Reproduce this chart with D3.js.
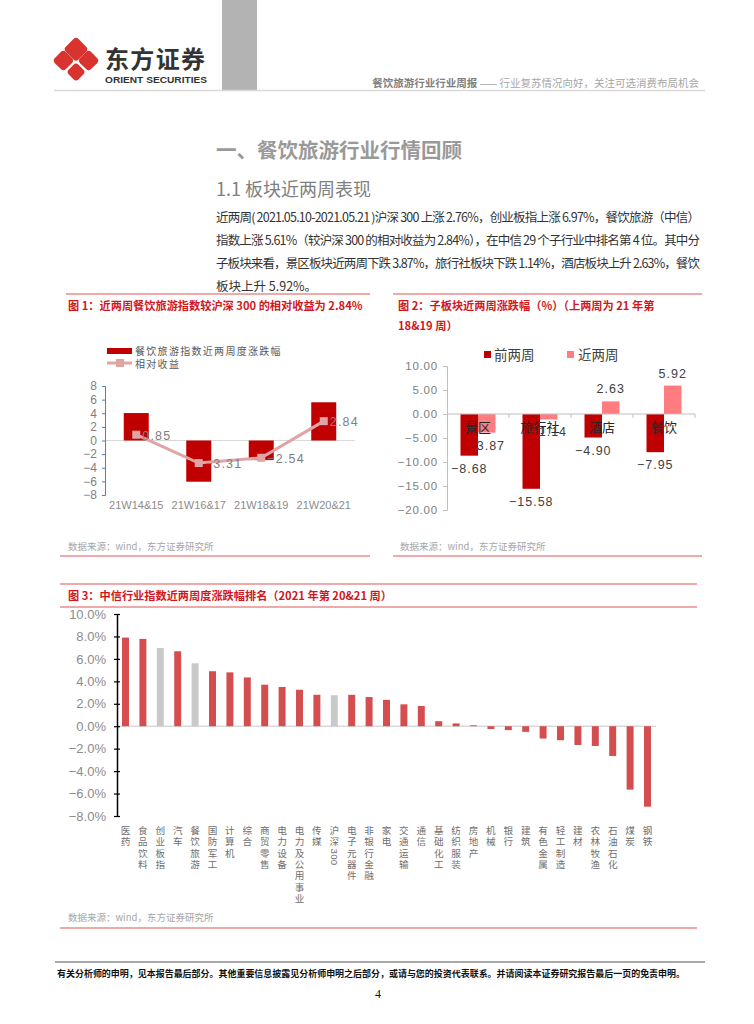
<!DOCTYPE html>
<html><head><meta charset="utf-8">
<script src="https://cdn.jsdelivr.net/npm/d3@7"></script>
<style>
html,body{margin:0;padding:0;background:#fff;}
svg{display:block;font-family:"Noto Sans CJK SC","Noto Sans",sans-serif;}
</style></head>
<body>
<svg id="page" width="754" height="1024"></svg>
<script>
// ---------- DATA ----------
const c1Categories = ["21W14&15", "21W16&17", "21W18&19", "21W20&21"];
const c1Index = [4.03, -6.05, -2.88, 5.61];
const c1Relative = [0.85, -3.31, -2.54, 2.84];
const c1Ticks = [-8, -6, -4, -2, 0, 2, 4, 6, 8];
const c1Series = ["餐饮旅游指数近两周度涨跌幅", "相对收益"];

const c2Categories = ["景区", "旅行社", "酒店", "餐饮"];
const c2Prev = [-8.68, -15.58, -4.90, -7.95];
const c2Recent = [-3.87, -1.14, 2.63, 5.92];
const c2Ticks = [-20, -15, -10, -5, 0, 5, 10];
const c2Series = ["前两周", "近两周"];

const c3Categories = ["医药","食品饮料","创业板指","汽车","餐饮旅游","国防军工","计算机","综合","商贸零售","电力设备","电力及公用事业","传媒","沪深300","电子元器件","非银行金融","家电","交通运输","通信","基础化工","纺织服装","房地产","机械","银行","建筑","有色金属","轻工制造","建材","农林牧渔","石油石化","煤炭","钢铁"];
const c3Values = [7.9,7.78,6.97,6.68,5.61,4.9,4.8,4.35,3.7,3.5,3.25,2.8,2.76,2.8,2.6,2.35,1.95,1.8,0.45,0.25,0.08,-0.25,-0.35,-0.5,-1.1,-1.25,-1.67,-1.76,-2.65,-5.65,-7.17];
const c3Gray = ["创业板指","餐饮旅游","沪深300"];
const c3Ticks = [-8,-6,-4,-2,0,2,4,6,8,10];

const paraLines = [
 "近两周( 2021.05.10-2021.05.21 )沪深 300 上涨  2.76%，创业板指上涨 6.97%，餐饮旅游（中信）",
 "指数上涨 5.61%（较沪深 300 的相对收益为 2.84%），在中信 29 个子行业中排名第 4 位。其中分",
 "子板块来看，景区板块近两周下跌 3.87%，旅行社板块下跌 1.14%，酒店板块上升 2.63%，餐饮",
 "板块上升 5.92%。"
];

// ---------- PAGE ----------
const svg = d3.select("#page");
const RED = "#c00000", TITLE_RED = "#d1161c", LINE_RED = "#e88d8d";
const NUMFONT = "Liberation Sans, Arial, sans-serif";

// header
svg.append("rect").attr("x",222).attr("y",0).attr("width",35).attr("height",90).attr("fill","#b3b3b3");
const logo = svg.append("g").attr("transform","translate(76,60) scale(1.2)");
[[0,-9],[-10.5,0.5],[10.5,0.5],[0,10]].forEach(([dx,dy],i)=>{
  const s = (i===0)?15:(i===3?11.5:13);
  logo.append("rect").attr("x",-s/2).attr("y",-s/2).attr("width",s).attr("height",s).attr("rx",3)
    .attr("fill","#d9332f").attr("transform",`translate(${dx},${dy}) rotate(45)`);
});
svg.append("text").attr("x",105).attr("y",68).attr("font-size",24).attr("font-weight",700).attr("fill","#333")
  .attr("textLength",100).text("东方证券");
svg.append("text").attr("x",105).attr("y",83).attr("font-size",8.5).attr("font-weight",700).attr("fill","#333")
  .attr("font-family",NUMFONT).attr("textLength",102).attr("lengthAdjust","spacingAndGlyphs").text("ORIENT SECURITIES");
svg.append("line").attr("x1",54).attr("x2",705).attr("y1",90.5).attr("y2",90.5).attr("stroke","#d9d9d9").attr("stroke-width",1.5);
const ht = svg.append("text").attr("x",699).attr("y",87).attr("text-anchor","end").attr("font-size",10.5);
ht.append("tspan").attr("fill","#7f7f7f").attr("font-weight",700).text("餐饮旅游行业行业周报");
ht.append("tspan").attr("fill","#a6a6a6").text(" —— 行业复苏情况向好，关注可选消费布局机会");

// section text
svg.append("text").attr("x",216).attr("y",158).attr("font-size",20.5).attr("font-weight",700).attr("fill","#999").text("一、餐饮旅游行业行情回顾");
svg.append("text").attr("x",216).attr("y",196).attr("font-size",18).attr("fill","#7f7f7f").text("1.1 板块近两周表现");
paraLines.forEach((t,i)=>{
  const el = svg.append("text").attr("x",216).attr("y",222+i*23).attr("font-size",12.5).attr("fill","#333").text(t);
  if(i<3) el.attr("textLength",484).attr("lengthAdjust","spacing");
});

function hline(x1,x2,y,color){svg.append("line").attr("x1",x1).attr("x2",x2).attr("y1",y).attr("y2",y).attr("stroke",color||LINE_RED).attr("stroke-width",1.3);}
function source(x,y){svg.append("text").attr("x",x).attr("y",y).attr("font-size",9.5).attr("fill","#a6a6a6").text("数据来源：wind，东方证券研究所");}
function title(x,y,t){svg.append("text").attr("x",x).attr("y",y).attr("font-size",11.2).attr("font-weight",700).attr("fill",TITLE_RED).text(t);}

// ---------- CHART 1 ----------
hline(66,370,294); hline(60,370,556);
title(68,310,"图 1：近两周餐饮旅游指数较沪深 300 的相对收益为 2.84%");
source(68,550);
{
  const x = d3.scaleBand().domain(c1Categories).range([105,355]).paddingInner(0.6).paddingOuter(0.3);
  const y = d3.scaleLinear().domain([-8,8]).range([495,386]);
  const g = svg.append("g");
  g.append("line").attr("x1",105).attr("x2",355).attr("y1",y(0)).attr("y2",y(0)).attr("stroke","#d9d9d9");
  const ax = g.append("g").attr("transform","translate(105,0)").call(d3.axisLeft(y).tickValues(c1Ticks).tickSize(3).tickPadding(5));
  ax.selectAll("path,line").attr("stroke","#4f81bd");
  ax.selectAll("text").attr("font-size",12).attr("fill","#7f7f7f").attr("font-family",NUMFONT);
  g.selectAll(".b").data(c1Index).join("rect")
    .attr("x",(d,i)=>x(c1Categories[i])).attr("width",x.bandwidth())
    .attr("y",d=>y(Math.max(0,d))).attr("height",d=>Math.abs(y(d)-y(0))).attr("fill",RED);
  const cx = i=>x(c1Categories[i])+x.bandwidth()/2;
  g.append("path").datum(c1Relative).attr("fill","none").attr("stroke","#dea5a4").attr("stroke-width",3)
    .attr("d",d3.line().x((d,i)=>cx(i)).y(d=>y(d)));
  g.selectAll(".m").data(c1Relative).join("rect").attr("x",(d,i)=>cx(i)-4).attr("y",d=>y(d)-4)
    .attr("width",8).attr("height",8).attr("fill","#dea5a4");
  g.selectAll(".l").data(c1Relative).join("text").attr("x",(d,i)=>cx(i)+6).attr("y",d=>y(d)+5)
    .attr("font-size",12.5).attr("fill","#7f7f7f").attr("letter-spacing",1.2).attr("font-family",NUMFONT)
    .text(d=>d3.format(".2f")(d));
  g.selectAll(".xl").data(c1Categories).join("text").attr("x",(d)=>x(d)+x.bandwidth()/2).attr("y",509)
    .attr("text-anchor","middle").attr("font-size",11).attr("fill","#8c8c8c").attr("font-family",NUMFONT).text(d=>d);
  g.append("rect").attr("x",107).attr("y",348).attr("width",25).attr("height",6).attr("fill",RED);
  g.append("text").attr("x",135).attr("y",354.5).attr("font-size",10).attr("letter-spacing",1.3).attr("fill","#595959").text(c1Series[0]);
  g.append("line").attr("x1",107).attr("x2",132).attr("y1",363).attr("y2",363).attr("stroke","#dea5a4").attr("stroke-width",3);
  g.append("rect").attr("x",116).attr("y",359).attr("width",8).attr("height",8).attr("fill","#dea5a4");
  g.append("text").attr("x",135).attr("y",368).attr("font-size",10).attr("letter-spacing",1.3).attr("fill","#595959").text(c1Series[1]);
}

// ---------- CHART 2 ----------
hline(393,702,294); hline(393,702,556);
title(398,310,"图 2：子板块近两周涨跌幅（%）（上两周为 21 年第");
title(398,330,"18&19 周）");
source(400,550);
{
  const x = d3.scaleBand().domain(c2Categories).range([447,695]);
  const xs = d3.scaleBand().domain(c2Series).range([0,35]);
  const off = (x.bandwidth()-35)/2;
  const y = d3.scaleLinear().domain([-20,10]).range([510,366]);
  const g = svg.append("g");
  const ax = g.append("g").attr("transform","translate(447,0)").call(d3.axisLeft(y).tickValues(c2Ticks).tickSize(4).tickPadding(5).tickFormat(d3.format(".2f")));
  ax.selectAll("path,line").attr("stroke","#bfbfbf");
  ax.selectAll("text").attr("font-size",11.5).attr("fill","#7f7f7f").attr("letter-spacing",0.8).attr("font-family",NUMFONT);
  const series = [c2Prev, c2Recent], cols = [RED, "#ff7c80"];
  series.forEach((vals,si)=>{
    const bx = i=>x(c2Categories[i])+off+xs(c2Series[si]);
    g.selectAll(".b"+si).data(vals).join("rect")
      .attr("x",(d,i)=>bx(i)).attr("width",xs.bandwidth())
      .attr("y",d=>y(Math.max(0,d))).attr("height",d=>Math.abs(y(d)-y(0))).attr("fill",cols[si]);
  });
  g.append("line").attr("x1",447).attr("x2",695).attr("y1",y(0)).attr("y2",y(0)).attr("stroke","#bfbfbf");
  c2Categories.forEach(c=>{
    const bx = x(c)+x.bandwidth();
    g.append("line").attr("x1",bx).attr("x2",bx).attr("y1",y(0)).attr("y2",y(0)+4).attr("stroke","#bfbfbf");
  });
  g.selectAll(".xl").data(c2Categories).join("text").attr("x",d=>x(d)+x.bandwidth()/2).attr("y",432)
    .attr("text-anchor","middle").attr("font-size",13).attr("fill","#262626").text(d=>d);
  series.forEach((vals,si)=>{
    const bx = i=>x(c2Categories[i])+off+xs(c2Series[si]);
    g.selectAll(".v"+si).data(vals).join("text")
      .attr("x",(d,i)=>bx(i)+xs.bandwidth()/2).attr("y",d=>d<0?y(d)+17:y(d)-8)
      .attr("text-anchor","middle").attr("font-size",12.5).attr("letter-spacing",1).attr("fill","#404040").attr("font-family",NUMFONT)
      .text(d=>d3.format(".2f")(d));
  });
  g.append("rect").attr("x",484).attr("y",351).attr("width",7).attr("height",7).attr("fill",RED);
  g.append("text").attr("x",494).attr("y",360).attr("font-size",13.5).attr("fill","#404040").text(c2Series[0]);
  g.append("rect").attr("x",567).attr("y",351).attr("width",7).attr("height",7).attr("fill","#ff7c80");
  g.append("text").attr("x",578).attr("y",360).attr("font-size",13.5).attr("fill","#404040").text(c2Series[1]);
}

// ---------- CHART 3 ----------
hline(60,697,584); hline(60,697,607); hline(60,697,928);
title(68,600,"图 3：中信行业指数近两周度涨跌幅排名（2021 年第 20&21 周）");
source(68,921);
{
  const x = d3.scaleBand().domain(c3Categories).range([116.8,656.2]).paddingInner(0.6).paddingOuter(0.3);
  const y = d3.scaleLinear().domain([-8,10]).range([816,614]);
  const g = svg.append("g");
  g.append("line").attr("x1",117).attr("x2",656).attr("y1",y(0)).attr("y2",y(0)).attr("stroke","#d9d9d9").attr("stroke-width",1.5);
  g.selectAll(".b").data(c3Values).join("rect")
    .attr("x",(d,i)=>x(c3Categories[i])).attr("width",x.bandwidth())
    .attr("y",d=>y(Math.max(0,d))).attr("height",d=>Math.max(0.8,Math.abs(y(d)-y(0))))
    .attr("fill",(d,i)=>c3Gray.includes(c3Categories[i])?"#c9c9c9":"#d44d4f");
  const ax = g.append("g").attr("transform","translate(117,0)")
    .call(d3.axisLeft(y).tickValues(c3Ticks).tickSizeInner(3).tickSizeOuter(0).tickPadding(8).tickFormat(d=>d3.format(".1f")(d)+"%"));
  ax.selectAll("path").attr("stroke","#000").attr("stroke-width",1.5);
  ax.selectAll("line").attr("stroke","#000").attr("x1",3).attr("x2",-3).attr("stroke-width",1.2);
  ax.selectAll("text").attr("font-size",13).attr("fill","#8c8c8c").attr("font-family",NUMFONT);
  // vertical labels: glyphs stacked top to bottom, digits turned sideways
  const fs = 9.6, pitch = 11.3, top = 825;
  c3Categories.forEach(lab=>{
    const cx = x(lab)+x.bandwidth()/2;
    const t = g.append("text").attr("font-size",fs).attr("fill","#6f6f6f");
    let yy = top;
    const parts = lab.match(/[0-9A-Za-z.]+|[^0-9A-Za-z.]/g);
    parts.forEach(p=>{
      if(/^[0-9A-Za-z.]+$/.test(p)){
        const xs = [], ys = [], rs = [];
        for(let k=0;k<p.length;k++){ xs.push(cx-3.5); ys.push(yy+1+k*5.6); rs.push(90); }
        t.append("tspan").attr("x",xs.join(" ")).attr("y",ys.join(" ")).attr("rotate",rs.join(" "))
          .attr("font-family",NUMFONT).text(p);
        yy += p.length*5.6+2;
      } else {
        t.append("tspan").attr("x",cx-fs/2).attr("y",yy+fs*0.95).text(p);
        yy += pitch;
      }
    });
  });
}

// ---------- FOOTER ----------
svg.append("line").attr("x1",55).attr("x2",705).attr("y1",962).attr("y2",962).attr("stroke","#8c8c8c").attr("stroke-width",1.5);
svg.append("text").attr("x",57).attr("y",977).attr("font-size",9).attr("font-weight",700).attr("fill","#111")
  .attr("textLength",628).attr("lengthAdjust","spacingAndGlyphs")
  .text("有关分析师的申明，见本报告最后部分。其他重要信息披露见分析师申明之后部分，或请与您的投资代表联系。并请阅读本证券研究报告最后一页的免责申明。");
svg.append("text").attr("x",378).attr("y",998).attr("text-anchor","middle").attr("font-size",12).attr("font-family","Liberation Serif, serif").attr("fill","#111").text("4");
</script>
</body></html>
